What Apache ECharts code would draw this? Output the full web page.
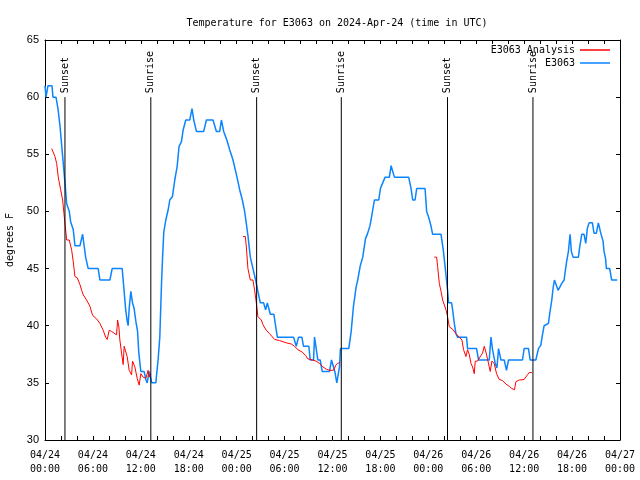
<!DOCTYPE html>
<html><head><meta charset="utf-8">
<script src="https://cdn.jsdelivr.net/npm/echarts@6/dist/echarts.min.js"></script>
<style>html,body{margin:0;padding:0;background:#fff}#c{width:640px;height:480px}</style>
</head><body><div id="c"></div>
<script>
// hours since 2024-04-24 00:00 UTC
const obsHours = [0,0.125,0.25,0.375,0.875,1,1.375,1.625,1.875,2.125,2.375,2.5,2.71,3.04,3.21,3.54,3.75,4.375,4.71,4.875,5.09,5.41,6.66,6.875,8.125,8.41,9.66,9.79,10.09,10.29,10.41,10.54,10.75,10.96,11.16,11.375,11.59,11.75,12,12.41,12.625,12.79,13.04,13.25,13.375,13.875,14.16,14.375,14.59,14.71,14.875,15.125,15.41,15.625,15.96,16.25,16.54,16.79,17.09,17.29,17.625,18.125,18.41,18.625,18.96,19.875,20.21,21.04,21.46,21.875,22.09,22.375,22.79,23.125,23.54,24.04,24.375,24.71,25,25.41,25.71,26.04,26.375,26.66,26.96,27.375,27.625,27.84,28.21,28.66,29.09,31.125,31.46,31.75,32.16,32.375,33.04,33.21,33.625,33.75,34.04,34.16,34.46,34.71,35.625,35.875,36.125,36.29,36.54,36.75,36.875,37,38.04,38.34,38.625,38.96,39.16,39.46,39.79,40.125,40.41,40.71,40.96,41.25,41.79,42,42.29,42.59,43.125,43.34,43.54,43.75,45.54,45.84,46.04,46.34,46.54,47.59,47.79,48.04,48.34,48.54,49.59,49.875,50.125,50.41,50.54,50.91,51.04,51.25,51.46,51.66,52.79,52.91,54.04,54.29,55.625,55.84,56.04,56.375,56.59,56.79,57.09,57.5,57.79,58.04,59.79,60,60.54,60.75,61.46,61.79,62.09,62.29,62.5,63.04,63.21,63.46,63.625,63.79,63.96,64.25,64.5,64.71,65,65.29,65.54,65.75,65.91,66.125,66.79,66.96,67.21,67.5,67.71,67.91,68.125,68.54,68.75,69.04,69.29,69.59,69.875,70,70.21,70.29,70.71,70.96,71.66];
const obsTemps = [61,60,60,61,61,60,60,59,57.5,55.5,53.5,52.5,50.7,50,49.1,48.4,47,47,48,48,46,45,45,44,44,45,45,44,41.5,40.4,40,41.5,43,42,41.5,40.4,39.5,37.6,36,36,35.3,35,36,36,35,35,37,39,43.7,45.8,48.2,49.25,50.1,51,51.3,52.75,53.9,55.7,56.1,57.1,58,58,59,58,57,57,58,58,57,57,58,57,56.2,55.4,54.5,53,51.9,51,50,47.9,46,45,44,43,42,42,41.4,42,41,41,39,39,38.2,39,39,38.2,38.2,37,37,39,37.6,37,37,36,36,37,37,36,35,35,36.4,38,38,39.5,41.7,43.4,44,45.2,46,47.6,48.1,48.8,49.8,51,51,52,52.5,53,53,54,54,53,53,52,51,51,52,52,50,49.5,48.7,48,48,46.6,45,43.1,42,42,41.4,40.2,39.3,39,39,38,38,37,37,39,37.9,36.7,36.3,38,37,37,36.1,37,37,38,38,37,37,38,38.3,39.2,40,40.2,41.1,42.25,43.3,44,44,43.1,43.1,43.7,44,45.5,46.5,48,46.5,46,46,46.9,48,48,47.2,48.5,49,49,48.1,48.1,49,48.1,47.4,46.5,45.8,45,45,44,44];
// analysis: null marks a gap between runs
const anaHours = [0.84,1.04,1.25,1.46,1.66,1.96,2.21,2.375,2.54,2.71,3.04,3.34,3.54,3.75,4.04,4.375,4.59,4.79,5.21,5.625,5.96,6.46,6.875,7.29,7.59,7.79,8.04,8.34,8.96,9.09,9.25,9.375,9.59,9.79,9.91,10.125,10.29,10.54,10.84,10.96,11.25,11.54,11.79,12,12.29,12.625,12.91,13.04,13.21,
  18,
  24.79,25.09,25.21,25.41,25.71,26.04,26.25,26.46,26.66,27.09,27.29,27.71,28.125,28.75,29.375,30.21,30.84,31.25,31.66,32.21,32.625,32.91,33.46,33.96,34.375,34.79,35.21,35.625,36.125,36.46,36.875,
  42,
  48.75,49.04,49.16,49.375,49.59,49.79,50,50.21,50.41,50.625,51.04,51.46,51.875,52.21,52.41,52.71,52.91,53.125,53.34,53.54,53.75,53.875,54.16,54.59,54.79,55,55.21,55.41,55.625,55.75,55.96,56.25,56.54,56.875,57.29,57.71,58.125,58.46,58.79,58.96,59.375,60,60.41,60.625,60.96];
const anaTemps = [55.5,55.5,54.8,54.2,53,51.9,51,49.8,48.7,47.5,47.5,46.6,45.6,44.3,44.2,43.6,43.1,42.7,42.25,41.7,40.9,40.6,40.2,39.6,39,38.8,39.6,39.5,39.2,40.5,39.9,38.75,37.6,36.6,38.2,38.2,37.3,36.1,35.7,36.9,36.4,35.4,34.8,35.8,35.5,35.4,36.1,35.5,35.8,
  null,
  47.8,47.8,46.9,45,44,44,43.1,42,40.8,40.5,40.1,39.6,39.3,38.8,38.7,38.5,38.4,38.2,37.9,37.7,37.4,37.1,37,36.9,36.7,36.4,36.2,36.1,36.1,36.6,36.8,
  null,
  46,46,45.2,43.7,43,42.25,42.1,41.4,40.8,39.9,39.7,39.3,39,38.75,37.9,37.3,37.9,37.5,36.7,36.4,35.8,36.9,36.9,37.4,37.6,38.2,37.7,37.1,36.4,36,36.9,36.7,35.8,35.3,35.2,34.9,34.7,34.5,34.4,35.1,35.25,35.3,35.7,35.9,35.9];
const eventHours = [2.5,13.25,26.5,37.1,50.4,61.1];
const eventNames = ['Sunset','Sunrise','Sunset','Sunrise','Sunset','Sunrise'];
const eventTop = 60, eventBottom = 30;
const xTickLabels = ['04/24\n00:00','04/24\n06:00','04/24\n12:00','04/24\n18:00','04/25\n00:00','04/25\n06:00','04/25\n12:00','04/25\n18:00','04/26\n00:00','04/26\n06:00','04/26\n12:00','04/26\n18:00','04/27\n00:00'];
const seriesNames = ['E3063 Analysis','E3063'];

const FONT = 'DejaVu Sans Mono';
const chart = echarts.init(document.getElementById('c'), null, {renderer:'canvas'});
const obsData = obsHours.map((h,i)=>[h,obsTemps[i]]);
const anaData = anaHours.map((h,i)=>[h,anaTemps[i]===null?'-':anaTemps[i]]);
const axisCommon = {
  axisLine:{show:true,onZero:false,lineStyle:{color:'#000',width:1}},
  axisTick:{show:true,inside:true,length:4,lineStyle:{color:'#000'}},
  splitLine:{show:false}
};
const series = [
  {name:seriesNames[0],type:'line',data:anaData,showSymbol:false,connectNulls:false,
   lineStyle:{color:'#ff0000',width:1},itemStyle:{color:'#ff0000'},z:3,animation:false},
  {name:seriesNames[1],type:'line',data:obsData,showSymbol:false,
   lineStyle:{color:'#0a84ff',width:1.5},itemStyle:{color:'#0a84ff'},z:2,animation:false}
];
eventHours.forEach((h,i)=>{
  series.push({type:'line',data:[{value:[h,eventTop],
      label:{show:true,formatter:eventNames[i],rotate:90,position:'top',distance:4,align:'left',verticalAlign:'middle',
             fontFamily:FONT,fontSize:10,color:'#000'}},[h,eventBottom]],
    symbol:'circle',symbolSize:0,showSymbol:true,lineStyle:{color:'#000',width:1},itemStyle:{color:'#000'},
    silent:true,z:4,animation:false});
});
const legendCommon = {right:30,orient:'vertical',align:'right',itemWidth:30,itemHeight:1.5,itemGap:0,icon:'rect',padding:0,
  textStyle:{fontFamily:FONT,fontSize:10,color:'#000'}};
chart.setOption({
  animation:false,
  title:{text:'Temperature for E3063 on 2024-Apr-24 (time in UTC)',left:332,top:13,textAlign:'center',
    textStyle:{fontFamily:FONT,fontSize:10,fontWeight:'normal',color:'#000'}},
  grid:{left:45,right:20,top:40,bottom:40,containLabel:false,outerBoundsMode:'none'},
  legend:[
    Object.assign({data:[seriesNames[0]],top:45},legendCommon),
    Object.assign({data:[seriesNames[1]],top:58},legendCommon)
  ],
  xAxis:[
    Object.assign({type:'value',min:0,max:72,interval:2,position:'bottom',
      axisLabel:{fontFamily:FONT,fontSize:10,color:'#000',margin:8,lineHeight:14,
        formatter:v=>(v%6===0?xTickLabels[v/6]:'')}},axisCommon),
    Object.assign({type:'value',min:0,max:72,interval:2,position:'top',axisLabel:{show:false}},axisCommon)
  ],
  yAxis:[
    Object.assign({type:'value',min:30,max:65,interval:5,position:'left',
      name:'degrees F',nameLocation:'middle',nameRotate:90,nameGap:30,
      nameTextStyle:{fontFamily:FONT,fontSize:10,color:'#000'},
      axisLabel:{fontFamily:'Liberation Sans',fontSize:11,color:'#000',margin:6}},axisCommon),
    Object.assign({type:'value',min:30,max:65,interval:5,position:'right',axisLabel:{show:false}},axisCommon)
  ],
  series:series
});
</script></body></html>
